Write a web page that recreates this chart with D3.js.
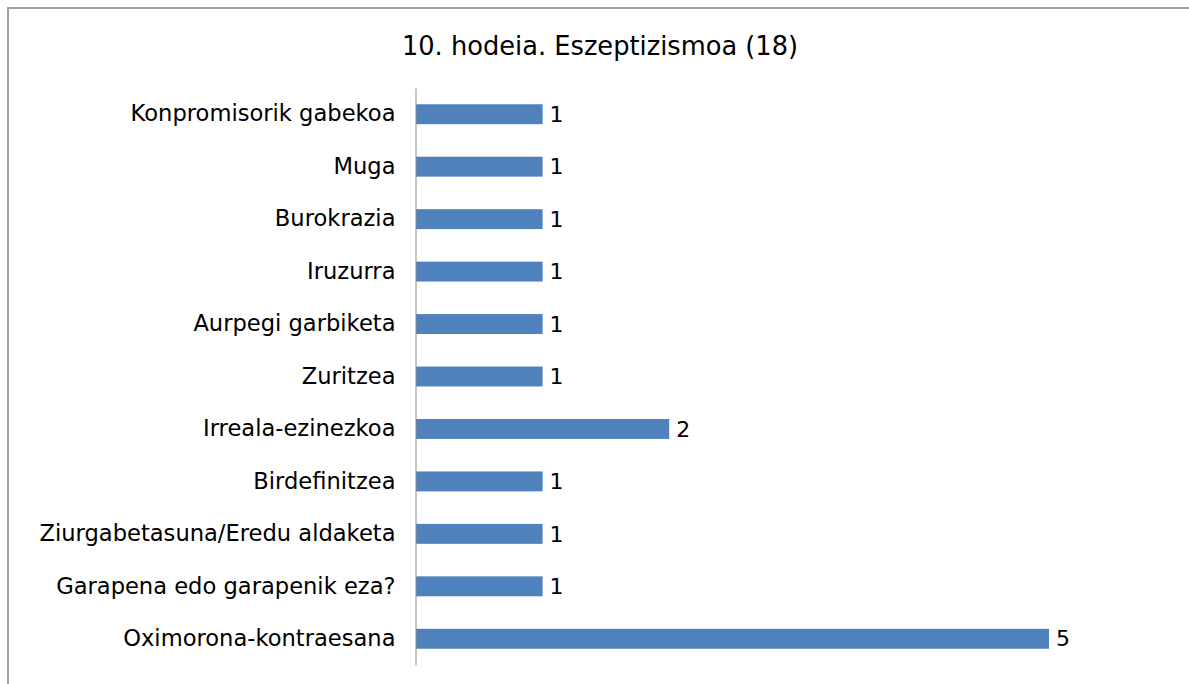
<!DOCTYPE html>
<html>
<head>
<meta charset="utf-8">
<script src="https://cdn.jsdelivr.net/npm/d3@7"></script>
<style>
    body { margin: 0; background: #fff; }
    text { font-family: "DejaVu Sans", Verdana, sans-serif; fill: #000; }
</style>
</head>
<body>
<div id="bar_chart"></div>
<script>
// categories from top to bottom
var categories = [
    "Konpromisorik gabekoa",
    "Muga",
    "Burokrazia",
    "Iruzurra",
    "Aurpegi garbiketa",
    "Zuritzea",
    "Irreala-ezinezkoa",
    "Birdefinitzea",
    "Ziurgabetasuna/Eredu aldaketa",
    "Garapena edo garapenik eza?",
    "Oximorona-kontraesana"
];
var counts = [1, 1, 1, 1, 1, 1, 2, 1, 1, 1, 5];
var chartTitle = "10. hodeia. Eszeptizismoa (18)";

let chart = {
    width: 1189,
    height: 684
};

var svg = d3.select("#bar_chart")
    .append("svg")
    .attr("width", chart.width)
    .attr("height", chart.height);

// outer frame (runs off the right and bottom edge)
svg.append("rect")
    .attr("x", 8)
    .attr("y", 8)
    .attr("width", 1200)
    .attr("height", 700)
    .attr("fill", "none")
    .attr("stroke", "#a0a0a0")
    .attr("stroke-width", 2);

svg.append("text")
    .attr("x", 600)
    .attr("y", 55)
    .attr("text-anchor", "middle")
    .style("font-size", "25.7px")
    .text(chartTitle);

var xscale = d3.scaleLinear()
    .domain([0, 6])
    .range([416, 416 + 6 * 126.6]);

var yscale = d3.scaleBand()
    .domain(categories)
    .range([88, 665])
    .paddingInner(0.62)
    .paddingOuter(0.31);

var data = categories.map(function(c, i) {
    return { name: c, value: counts[i] };
});

svg.selectAll(".bar")
    .data(data)
    .enter()
    .append("rect")
    .attr("class", "bar")
    .attr("x", xscale(0))
    .attr("y", function(d) { return yscale(d.name); })
    .attr("width", function(d) { return xscale(d.value) - xscale(0); })
    .attr("height", yscale.bandwidth())
    .attr("fill", "#4f81bd");

// category axis
var yaxis = d3.axisLeft(yscale).tickSize(0).tickPadding(20);

var ag = svg.append("g")
    .attr("transform", "translate(" + (xscale(0) - 0.5) + ",0)")
    .call(yaxis);
ag.select(".domain").attr("stroke", "#8c8c8c").attr("stroke-width", 1);
ag.selectAll("text")
    .style("font-size", "22.6px")
    .style("font-family", "DejaVu Sans, sans-serif")
    .attr("fill", "#000");

// value labels
svg.selectAll(".val")
    .data(data)
    .enter()
    .append("text")
    .attr("class", "val")
    .attr("x", function(d) { return xscale(d.value) + 7; })
    .attr("y", function(d) { return yscale(d.name) + yscale.bandwidth() / 2; })
    .attr("dy", "0.35em")
    .style("font-size", "22px")
    .text(function(d) { return d.value; });
</script>
</body>
</html>
